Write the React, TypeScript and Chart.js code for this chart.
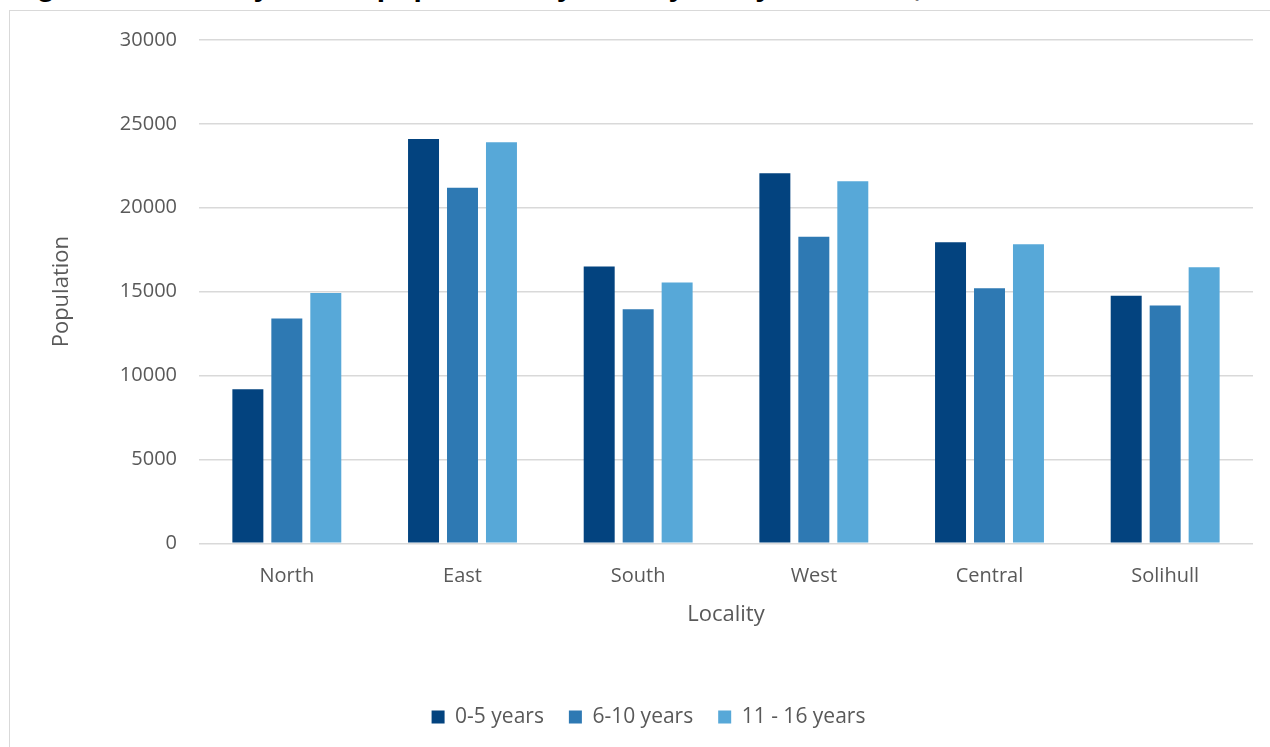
import React, { useEffect, useRef } from "react";
import { Chart, registerables } from "chart.js";

Chart.register(...registerables);

const categories = ["North", "East", "South", "West", "Central", "Solihull"];
const seriesLabels = ["0-5 years", "6-10 years", "11 - 16 years"];
const values0to5 = [9180, 24100, 16500, 22050, 17950, 14750];
const values6to10 = [13400, 21200, 13950, 18270, 15200, 14180];
const values11to16 = [14920, 23900, 15550, 21580, 17830, 16450];
const seriesColors = ["#03437F", "#2E79B3", "#57A8D8"];
const yTickMax = 30000;
const yTickStep = 5000;
const xTitle = "Locality";
const yTitle = "Population";
const figureTitle = "Figure 12: 0 \u2013 16 year old population by locality and year bands, 2019";

const FONT = "'Open Sans', 'DejaVu Sans', sans-serif";
const TEXT = "#595959";

export default function App() {
  const ref = useRef<HTMLCanvasElement | null>(null);

  useEffect(() => {
    if (!ref.current) return;
    const seriesValues = [values0to5, values6to10, values11to16];
    const chart = new Chart(ref.current, {
      type: "bar",
      data: {
        labels: categories,
        datasets: seriesLabels.map((label, i) => ({
          label,
          data: seriesValues[i],
          backgroundColor: seriesColors[i],
          borderWidth: 0,
          categoryPercentage: 0.6655,
          barPercentage: 0.795,
        })),
      },
      options: {
        responsive: false,
        animation: false,
        devicePixelRatio: 1,
        layout: { padding: { left: 44, right: 17, top: 40, bottom: 9.5 } },
        plugins: {
          title: { display: false },
          tooltip: { enabled: false },
          legend: {
            position: "bottom",
            labels: {
              boxWidth: 13,
              boxHeight: 13,
              padding: 25,
              color: TEXT,
              font: { family: FONT, size: 21 },
            },
          },
        },
        scales: {
          x: {
            grid: { display: false },
            border: { display: false },
            ticks: { color: TEXT, font: { family: FONT, size: 20 }, padding: 13 },
            title: {
              display: true,
              text: xTitle,
              color: TEXT,
              font: { family: FONT, size: 22 },
              padding: { top: 0, bottom: 54 },
            },
            afterFit: (s: any) => {
              s.height = 138.2;
            },
          },
          y: {
            min: 0,
            max: yTickMax,
            grid: { color: "#d9d9d9", lineWidth: 1.4, drawTicks: false },
            border: { display: false },
            ticks: {
              stepSize: yTickStep,
              color: TEXT,
              font: { family: FONT, size: 20 },
              padding: 22,
              callback: (v: any) => String(v),
            },
            title: {
              display: true,
              text: yTitle,
              color: TEXT,
              font: { family: FONT, size: 22 },
              padding: { top: 5, bottom: 0 },
            },
            afterFit: (s: any) => {
              s.width = 155;
            },
          },
        },
      },
    });
    return () => chart.destroy();
  }, []);

  return (
    <div
      style={{
        position: "fixed",
        left: 0,
        top: 0,
        width: 1270,
        height: 747,
        overflow: "hidden",
        background: "#ffffff",
      }}
    >
      <div
        style={{
          position: "absolute",
          left: 10,
          top: -29.5,
          whiteSpace: "nowrap",
          fontFamily: "'Liberation Sans', Arial, sans-serif",
          fontWeight: "bold",
          fontSize: 30,
          lineHeight: "30px",
          color: "#000000",
        }}
      >
        {figureTitle}
      </div>
      <div
        style={{
          position: "absolute",
          left: 9,
          top: 10,
          width: 1300,
          height: 800,
          border: "1px solid #d9d9d9",
          boxSizing: "border-box",
        }}
      />
      <canvas
        ref={ref}
        width={1270}
        height={747}
        style={{ position: "absolute", left: 0, top: 0, width: 1270, height: 747 }}
      />
    </div>
  );
}
